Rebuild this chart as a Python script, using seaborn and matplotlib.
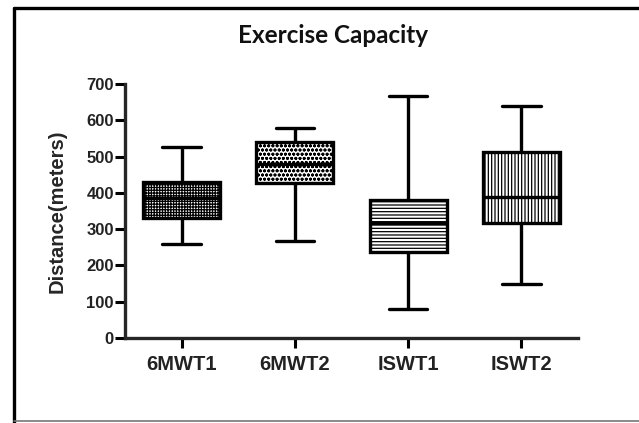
import pandas as pd
import matplotlib.pyplot as plt
import seaborn as sns
from matplotlib.lines import Line2D

# five-number summaries (min, Q1, median, Q3, max)
tests = ['6MWT1', '6MWT2', 'ISWT1', 'ISWT2']
mwt1 = [258, 332, 385, 430, 528]
mwt2 = [268, 428, 480, 540, 580]
iswt1 = [80, 236, 318, 380, 668]
iswt2 = [148, 318, 388, 512, 640]
hatches = ['++++++', 'oooo', '-----', '|||||']

df = pd.DataFrame({
    'Test': [t for t, v in zip(tests, [mwt1, mwt2, iswt1, iswt2]) for _ in v],
    'Distance': mwt1 + mwt2 + iswt1 + iswt2,
})

sns.set_style('ticks')
plt.rcParams['font.family'] = ['Liberation Sans', 'DejaVu Sans']
plt.rcParams['hatch.linewidth'] = 0.9

fig = plt.figure(figsize=(6.39, 4.23), dpi=100)
ax = fig.add_axes([0.1956, 0.201, 0.709, 0.600])

sns.boxplot(data=df, x='Test', y='Distance', order=tests, whis=(0, 100),
            width=0.68, color='white', linecolor='black', linewidth=2.4,
            saturation=1, ax=ax)

for patch, h in zip(ax.patches, hatches):
    patch.set_hatch(h)
    patch.set_facecolor('white')
    patch.set_edgecolor('black')

ax.set_ylim(0, 700)
ax.set_xlim(-0.5, 3.5)
ax.set_yticks(range(0, 701, 100))
sns.despine(ax=ax)
for s in ['left', 'bottom']:
    ax.spines[s].set_linewidth(2.4)
ax.tick_params(axis='both', width=2.2, length=7, color='black')
ax.tick_params(axis='y', labelsize=12, pad=1)
ax.tick_params(axis='x', labelsize=14.5, pad=5)
for lab in ax.get_xticklabels() + ax.get_yticklabels():
    lab.set_fontweight('bold')
    lab.set_color('#222222')

ax.set_xlabel('')
ax.set_ylabel('Distance(meters)', fontsize=14.5, fontweight='bold', labelpad=14)
fig.text(0.521, 0.917, 'Exercise Capacity', ha='center', va='center',
         fontsize=17.5, fontweight='bold', family=['Lato', 'DejaVu Sans'],
         color='#111111')

# outer frame like the source figure
fig.add_artist(Line2D([14 / 639, 14 / 639], [0, 1 - 8 / 423], color='black',
                      lw=2.4, transform=fig.transFigure))
fig.add_artist(Line2D([14 / 639, 1], [1 - 8 / 423, 1 - 8 / 423], color='black',
                      lw=2.4, transform=fig.transFigure))
fig.add_artist(Line2D([14 / 639, 1], [2 / 423, 2 / 423], color='#777777',
                      lw=1.2, transform=fig.transFigure))

plt.savefig('out.png', dpi=100)
